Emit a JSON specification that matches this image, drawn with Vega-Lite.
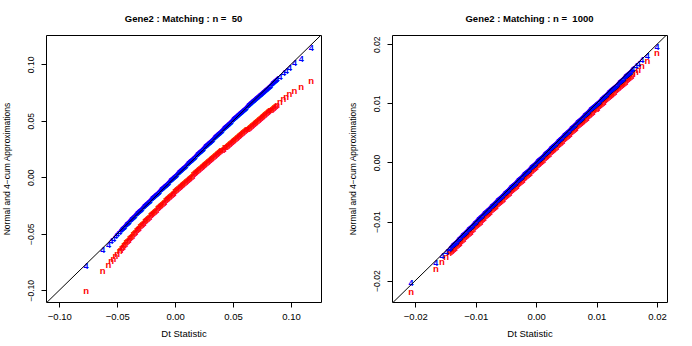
{
  "$schema": "https://vega.github.io/schema/vega-lite/v6.json",
  "padding": {"left": 1, "top": 13, "right": 5, "bottom": 5},
  "config": {
    "font": "Liberation Sans",
    "view": {"stroke": "black", "strokeWidth": 1},
    "axis": {"grid": false, "domain": false, "tickColor": "black", "tickSize": 5, "labelColor": "black", "titleColor": "black", "titleFontWeight": "normal", "labelFlush": false, "labelOverlap": false},
    "title": {"fontSize": 9.5, "fontWeight": "bold", "anchor": "middle", "color": "black", "offset": 12}
  },
  "spacing": 25,
  "datasets": {
    "p1": [
      {"x":-0.0769,"y":-0.0784,"m":"4"},{"x":-0.0769,"y":-0.1008,"m":"n"},
      {"x":-0.0625,"y":-0.0640,"m":"4"},{"x":-0.0625,"y":-0.0826,"m":"n"},
      {"x":-0.0576,"y":-0.0595,"m":"4"},{"x":-0.0576,"y":-0.0773,"m":"n"},
      {"x":-0.0553,"y":-0.0568,"m":"4"},{"x":-0.0553,"y":-0.0742,"m":"n"},
      {"x":-0.0533,"y":-0.0545,"m":"4"},{"x":-0.0533,"y":-0.0721,"m":"n"},
      {"x":-0.0515,"y":-0.0524,"m":"4"},{"x":-0.0515,"y":-0.0698,"m":"n"},
      {"x":-0.0500,"y":-0.0506,"m":"4"},{"x":-0.0500,"y":-0.0680,"m":"n"},
      {"x":-0.048,"y":-0.0481,"m":"4"},{"x":-0.048,"y":-0.0655,"m":"n"},
      {"x":-0.047,"y":-0.0470,"m":"4"},{"x":-0.047,"y":-0.0642,"m":"n"},
      {"x":-0.046,"y":-0.0460,"m":"4"},{"x":-0.046,"y":-0.0629,"m":"n"},
      {"x":-0.045,"y":-0.0448,"m":"4"},{"x":-0.045,"y":-0.0615,"m":"n"},
      {"x":-0.044,"y":-0.0437,"m":"4"},{"x":-0.044,"y":-0.0602,"m":"n"},
      {"x":-0.043,"y":-0.0426,"m":"4"},{"x":-0.043,"y":-0.0589,"m":"n"},
      {"x":-0.042,"y":-0.0415,"m":"4"},{"x":-0.042,"y":-0.0577,"m":"n"},
      {"x":-0.041,"y":-0.0404,"m":"4"},{"x":-0.041,"y":-0.0564,"m":"n"},
      {"x":-0.040,"y":-0.0393,"m":"4"},{"x":-0.040,"y":-0.0552,"m":"n"},
      {"x":-0.039,"y":-0.0382,"m":"4"},{"x":-0.039,"y":-0.0540,"m":"n"},
      {"x":-0.038,"y":-0.0371,"m":"4"},{"x":-0.038,"y":-0.0528,"m":"n"},
      {"x":-0.037,"y":-0.0361,"m":"4"},{"x":-0.037,"y":-0.0516,"m":"n"},
      {"x":-0.036,"y":-0.0350,"m":"4"},{"x":-0.036,"y":-0.0504,"m":"n"},
      {"x":-0.035,"y":-0.0339,"m":"4"},{"x":-0.035,"y":-0.0493,"m":"n"},
      {"x":-0.034,"y":-0.0329,"m":"4"},{"x":-0.034,"y":-0.0481,"m":"n"},
      {"x":-0.033,"y":-0.0318,"m":"4"},{"x":-0.033,"y":-0.0470,"m":"n"},
      {"x":-0.032,"y":-0.0308,"m":"4"},{"x":-0.032,"y":-0.0458,"m":"n"},
      {"x":-0.031,"y":-0.0297,"m":"4"},{"x":-0.031,"y":-0.0447,"m":"n"},
      {"x":-0.030,"y":-0.0287,"m":"4"},{"x":-0.030,"y":-0.0435,"m":"n"},
      {"x":-0.029,"y":-0.0277,"m":"4"},{"x":-0.029,"y":-0.0424,"m":"n"},
      {"x":-0.028,"y":-0.0266,"m":"4"},{"x":-0.028,"y":-0.0413,"m":"n"},
      {"x":-0.027,"y":-0.0256,"m":"4"},{"x":-0.027,"y":-0.0402,"m":"n"},
      {"x":-0.026,"y":-0.0246,"m":"4"},{"x":-0.026,"y":-0.0391,"m":"n"},
      {"x":-0.025,"y":-0.0236,"m":"4"},{"x":-0.025,"y":-0.0380,"m":"n"},
      {"x":-0.024,"y":-0.0226,"m":"4"},{"x":-0.024,"y":-0.0369,"m":"n"},
      {"x":-0.023,"y":-0.0216,"m":"4"},{"x":-0.023,"y":-0.0359,"m":"n"},
      {"x":-0.022,"y":-0.0206,"m":"4"},{"x":-0.022,"y":-0.0348,"m":"n"},
      {"x":-0.021,"y":-0.0196,"m":"4"},{"x":-0.021,"y":-0.0338,"m":"n"},
      {"x":-0.020,"y":-0.0186,"m":"4"},{"x":-0.020,"y":-0.0327,"m":"n"},
      {"x":-0.019,"y":-0.0176,"m":"4"},{"x":-0.019,"y":-0.0317,"m":"n"},
      {"x":-0.018,"y":-0.0166,"m":"4"},{"x":-0.018,"y":-0.0306,"m":"n"},
      {"x":-0.017,"y":-0.0156,"m":"4"},{"x":-0.017,"y":-0.0296,"m":"n"},
      {"x":-0.016,"y":-0.0146,"m":"4"},{"x":-0.016,"y":-0.0286,"m":"n"},
      {"x":-0.015,"y":-0.0136,"m":"4"},{"x":-0.015,"y":-0.0275,"m":"n"},
      {"x":-0.014,"y":-0.0126,"m":"4"},{"x":-0.014,"y":-0.0265,"m":"n"},
      {"x":-0.013,"y":-0.0116,"m":"4"},{"x":-0.013,"y":-0.0255,"m":"n"},
      {"x":-0.012,"y":-0.0106,"m":"4"},{"x":-0.012,"y":-0.0245,"m":"n"},
      {"x":-0.011,"y":-0.0096,"m":"4"},{"x":-0.011,"y":-0.0235,"m":"n"},
      {"x":-0.010,"y":-0.0086,"m":"4"},{"x":-0.010,"y":-0.0225,"m":"n"},
      {"x":-0.009,"y":-0.0076,"m":"4"},{"x":-0.009,"y":-0.0215,"m":"n"},
      {"x":-0.008,"y":-0.0066,"m":"4"},{"x":-0.008,"y":-0.0205,"m":"n"},
      {"x":-0.007,"y":-0.0056,"m":"4"},{"x":-0.007,"y":-0.0195,"m":"n"},
      {"x":-0.006,"y":-0.0046,"m":"4"},{"x":-0.006,"y":-0.0185,"m":"n"},
      {"x":-0.005,"y":-0.0036,"m":"4"},{"x":-0.005,"y":-0.0175,"m":"n"},
      {"x":-0.004,"y":-0.0026,"m":"4"},{"x":-0.004,"y":-0.0165,"m":"n"},
      {"x":-0.003,"y":-0.0016,"m":"4"},{"x":-0.003,"y":-0.0155,"m":"n"},
      {"x":-0.002,"y":-0.0006,"m":"4"},{"x":-0.002,"y":-0.0145,"m":"n"},
      {"x":-0.001,"y":0.0004,"m":"4"},{"x":-0.001,"y":-0.0135,"m":"n"},
      {"x":0.000,"y":0.0014,"m":"4"},{"x":0.000,"y":-0.0125,"m":"n"},
      {"x":0.001,"y":0.0024,"m":"4"},{"x":0.001,"y":-0.0116,"m":"n"},
      {"x":0.002,"y":0.0034,"m":"4"},{"x":0.002,"y":-0.0106,"m":"n"},
      {"x":0.003,"y":0.0044,"m":"4"},{"x":0.003,"y":-0.0097,"m":"n"},
      {"x":0.004,"y":0.0054,"m":"4"},{"x":0.004,"y":-0.0087,"m":"n"},
      {"x":0.005,"y":0.0064,"m":"4"},{"x":0.005,"y":-0.0078,"m":"n"},
      {"x":0.006,"y":0.0074,"m":"4"},{"x":0.006,"y":-0.0068,"m":"n"},
      {"x":0.007,"y":0.0084,"m":"4"},{"x":0.007,"y":-0.0059,"m":"n"},
      {"x":0.008,"y":0.0094,"m":"4"},{"x":0.008,"y":-0.0049,"m":"n"},
      {"x":0.009,"y":0.0104,"m":"4"},{"x":0.009,"y":-0.0040,"m":"n"},
      {"x":0.010,"y":0.0114,"m":"4"},{"x":0.010,"y":-0.0030,"m":"n"},
      {"x":0.011,"y":0.0124,"m":"4"},{"x":0.011,"y":-0.0021,"m":"n"},
      {"x":0.012,"y":0.0134,"m":"4"},{"x":0.012,"y":-0.0012,"m":"n"},
      {"x":0.013,"y":0.0144,"m":"4"},{"x":0.013,"y":-0.0003,"m":"n"},
      {"x":0.014,"y":0.0154,"m":"4"},{"x":0.014,"y":0.0006,"m":"n"},
      {"x":0.015,"y":0.0164,"m":"4"},{"x":0.015,"y":0.0016,"m":"n"},
      {"x":0.016,"y":0.0174,"m":"4"},{"x":0.016,"y":0.0025,"m":"n"},
      {"x":0.017,"y":0.0184,"m":"4"},{"x":0.017,"y":0.0034,"m":"n"},
      {"x":0.018,"y":0.0194,"m":"4"},{"x":0.018,"y":0.0043,"m":"n"},
      {"x":0.019,"y":0.0204,"m":"4"},{"x":0.019,"y":0.0052,"m":"n"},
      {"x":0.020,"y":0.0214,"m":"4"},{"x":0.020,"y":0.0062,"m":"n"},
      {"x":0.021,"y":0.0224,"m":"4"},{"x":0.021,"y":0.0071,"m":"n"},
      {"x":0.022,"y":0.0234,"m":"4"},{"x":0.022,"y":0.0080,"m":"n"},
      {"x":0.023,"y":0.0244,"m":"4"},{"x":0.023,"y":0.0088,"m":"n"},
      {"x":0.024,"y":0.0254,"m":"4"},{"x":0.024,"y":0.0097,"m":"n"},
      {"x":0.025,"y":0.0264,"m":"4"},{"x":0.025,"y":0.0106,"m":"n"},
      {"x":0.026,"y":0.0274,"m":"4"},{"x":0.026,"y":0.0115,"m":"n"},
      {"x":0.027,"y":0.0284,"m":"4"},{"x":0.027,"y":0.0124,"m":"n"},
      {"x":0.028,"y":0.0294,"m":"4"},{"x":0.028,"y":0.0132,"m":"n"},
      {"x":0.029,"y":0.0304,"m":"4"},{"x":0.029,"y":0.0141,"m":"n"},
      {"x":0.030,"y":0.0314,"m":"4"},{"x":0.030,"y":0.0150,"m":"n"},
      {"x":0.031,"y":0.0324,"m":"4"},{"x":0.031,"y":0.0159,"m":"n"},
      {"x":0.032,"y":0.0334,"m":"4"},{"x":0.032,"y":0.0168,"m":"n"},
      {"x":0.033,"y":0.0344,"m":"4"},{"x":0.033,"y":0.0176,"m":"n"},
      {"x":0.034,"y":0.0354,"m":"4"},{"x":0.034,"y":0.0185,"m":"n"},
      {"x":0.035,"y":0.0364,"m":"4"},{"x":0.035,"y":0.0194,"m":"n"},
      {"x":0.036,"y":0.0374,"m":"4"},{"x":0.036,"y":0.0203,"m":"n"},
      {"x":0.037,"y":0.0384,"m":"4"},{"x":0.037,"y":0.0211,"m":"n"},
      {"x":0.038,"y":0.0394,"m":"4"},{"x":0.038,"y":0.0220,"m":"n"},
      {"x":0.039,"y":0.0404,"m":"4"},{"x":0.039,"y":0.0229,"m":"n"},
      {"x":0.040,"y":0.0414,"m":"4"},{"x":0.040,"y":0.0238,"m":"n"},
      {"x":0.041,"y":0.0424,"m":"4"},{"x":0.041,"y":0.0246,"m":"n"},
      {"x":0.042,"y":0.0434,"m":"4"},{"x":0.042,"y":0.0255,"m":"n"},
      {"x":0.043,"y":0.0444,"m":"4"},{"x":0.043,"y":0.0264,"m":"n"},
      {"x":0.044,"y":0.0454,"m":"4"},{"x":0.044,"y":0.0272,"m":"n"},
      {"x":0.045,"y":0.0464,"m":"4"},{"x":0.045,"y":0.0281,"m":"n"},
      {"x":0.046,"y":0.0474,"m":"4"},{"x":0.046,"y":0.0289,"m":"n"},
      {"x":0.047,"y":0.0483,"m":"4"},{"x":0.047,"y":0.0298,"m":"n"},
      {"x":0.048,"y":0.0493,"m":"4"},{"x":0.048,"y":0.0306,"m":"n"},
      {"x":0.049,"y":0.0503,"m":"4"},{"x":0.049,"y":0.0315,"m":"n"},
      {"x":0.050,"y":0.0513,"m":"4"},{"x":0.050,"y":0.0323,"m":"n"},
      {"x":0.051,"y":0.0522,"m":"4"},{"x":0.051,"y":0.0331,"m":"n"},
      {"x":0.052,"y":0.0532,"m":"4"},{"x":0.052,"y":0.0340,"m":"n"},
      {"x":0.053,"y":0.0542,"m":"4"},{"x":0.053,"y":0.0348,"m":"n"},
      {"x":0.054,"y":0.0551,"m":"4"},{"x":0.054,"y":0.0357,"m":"n"},
      {"x":0.055,"y":0.0561,"m":"4"},{"x":0.055,"y":0.0365,"m":"n"},
      {"x":0.056,"y":0.0570,"m":"4"},{"x":0.056,"y":0.0373,"m":"n"},
      {"x":0.057,"y":0.0580,"m":"4"},{"x":0.057,"y":0.0382,"m":"n"},
      {"x":0.058,"y":0.0590,"m":"4"},{"x":0.058,"y":0.0390,"m":"n"},
      {"x":0.059,"y":0.0599,"m":"4"},{"x":0.059,"y":0.0399,"m":"n"},
      {"x":0.060,"y":0.0609,"m":"4"},{"x":0.060,"y":0.0407,"m":"n"},
      {"x":0.061,"y":0.0618,"m":"4"},{"x":0.061,"y":0.0415,"m":"n"},
      {"x":0.062,"y":0.0628,"m":"4"},{"x":0.062,"y":0.0424,"m":"n"},
      {"x":0.063,"y":0.0637,"m":"4"},{"x":0.063,"y":0.0432,"m":"n"},
      {"x":0.064,"y":0.0646,"m":"4"},{"x":0.064,"y":0.0441,"m":"n"},
      {"x":0.065,"y":0.0656,"m":"4"},{"x":0.065,"y":0.0449,"m":"n"},
      {"x":0.066,"y":0.0665,"m":"4"},{"x":0.066,"y":0.0457,"m":"n"},
      {"x":0.067,"y":0.0674,"m":"4"},{"x":0.067,"y":0.0466,"m":"n"},
      {"x":0.068,"y":0.0683,"m":"4"},{"x":0.068,"y":0.0474,"m":"n"},
      {"x":0.069,"y":0.0693,"m":"4"},{"x":0.069,"y":0.0483,"m":"n"},
      {"x":0.070,"y":0.0702,"m":"4"},{"x":0.070,"y":0.0491,"m":"n"},
      {"x":0.071,"y":0.0711,"m":"4"},{"x":0.071,"y":0.0499,"m":"n"},
      {"x":0.072,"y":0.0720,"m":"4"},{"x":0.072,"y":0.0508,"m":"n"},
      {"x":0.073,"y":0.0730,"m":"4"},{"x":0.073,"y":0.0516,"m":"n"},
      {"x":0.074,"y":0.0739,"m":"4"},{"x":0.074,"y":0.0525,"m":"n"},
      {"x":0.075,"y":0.0748,"m":"4"},{"x":0.075,"y":0.0533,"m":"n"},
      {"x":0.076,"y":0.0757,"m":"4"},{"x":0.076,"y":0.0541,"m":"n"},
      {"x":0.077,"y":0.0766,"m":"4"},{"x":0.077,"y":0.0550,"m":"n"},
      {"x":0.078,"y":0.0776,"m":"4"},{"x":0.078,"y":0.0558,"m":"n"},
      {"x":0.079,"y":0.0785,"m":"4"},{"x":0.079,"y":0.0567,"m":"n"},
      {"x":0.080,"y":0.0794,"m":"4"},{"x":0.080,"y":0.0575,"m":"n"},
      {"x":0.081,"y":0.0803,"m":"4"},{"x":0.081,"y":0.0583,"m":"n"},
      {"x":0.082,"y":0.0812,"m":"4"},{"x":0.082,"y":0.0592,"m":"n"},
      {"x":0.083,"y":0.0822,"m":"4"},{"x":0.083,"y":0.0600,"m":"n"},
      {"x":0.084,"y":0.0831,"m":"4"},{"x":0.084,"y":0.0609,"m":"n"},
      {"x":0.085,"y":0.0840,"m":"4"},{"x":0.085,"y":0.0617,"m":"n"},
      {"x":0.086,"y":0.0849,"m":"4"},{"x":0.086,"y":0.0625,"m":"n"},
      {"x":0.087,"y":0.0858,"m":"4"},{"x":0.087,"y":0.0634,"m":"n"},
      {"x":0.088,"y":0.0868,"m":"4"},{"x":0.088,"y":0.0642,"m":"n"},
      {"x":0.0905,"y":0.0891,"m":"4"},{"x":0.0905,"y":0.0663,"m":"n"},
      {"x":0.0935,"y":0.0920,"m":"4"},{"x":0.0935,"y":0.0689,"m":"n"},
      {"x":0.0959,"y":0.0944,"m":"4"},{"x":0.0959,"y":0.0710,"m":"n"},
      {"x":0.0987,"y":0.0970,"m":"4"},{"x":0.0987,"y":0.0734,"m":"n"},
      {"x":0.1030,"y":0.1010,"m":"4"},{"x":0.1030,"y":0.0764,"m":"n"},
      {"x":0.1088,"y":0.1045,"m":"4"},{"x":0.1088,"y":0.0797,"m":"n"},
      {"x":0.1174,"y":0.1142,"m":"4"},{"x":0.1174,"y":0.0852,"m":"n"}
    ],
    "p2": [
      {"x":-0.0207,"y":-0.0204,"m":"4"},{"x":-0.0207,"y":-0.0219,"m":"n"},
      {"x":-0.0166,"y":-0.0170,"m":"4"},{"x":-0.0166,"y":-0.0180,"m":"n"},
      {"x":-0.0156,"y":-0.0159,"m":"4"},{"x":-0.0156,"y":-0.0168,"m":"n"},
      {"x":-0.0149,"y":-0.0152,"m":"4"},{"x":-0.0149,"y":-0.0160,"m":"n"},
      {"x":-0.0144,"y":-0.0146,"m":"4"},{"x":-0.0144,"y":-0.0154,"m":"n"},
      {"x":-0.0142,"y":-0.0144,"m":"4"},{"x":-0.0142,"y":-0.0152,"m":"n"},
      {"x":-0.0140,"y":-0.0142,"m":"4"},{"x":-0.0140,"y":-0.0150,"m":"n"},
      {"x":-0.0138,"y":-0.0140,"m":"4"},{"x":-0.0138,"y":-0.0148,"m":"n"},
      {"x":-0.0136,"y":-0.0138,"m":"4"},{"x":-0.0136,"y":-0.0146,"m":"n"},
      {"x":-0.0134,"y":-0.0136,"m":"4"},{"x":-0.0134,"y":-0.0144,"m":"n"},
      {"x":-0.0132,"y":-0.0134,"m":"4"},{"x":-0.0132,"y":-0.0142,"m":"n"},
      {"x":-0.0130,"y":-0.0132,"m":"4"},{"x":-0.0130,"y":-0.0140,"m":"n"},
      {"x":-0.0128,"y":-0.0130,"m":"4"},{"x":-0.0128,"y":-0.0138,"m":"n"},
      {"x":-0.0126,"y":-0.0128,"m":"4"},{"x":-0.0126,"y":-0.0136,"m":"n"},
      {"x":-0.0124,"y":-0.0125,"m":"4"},{"x":-0.0124,"y":-0.0133,"m":"n"},
      {"x":-0.0122,"y":-0.0123,"m":"4"},{"x":-0.0122,"y":-0.0131,"m":"n"},
      {"x":-0.0120,"y":-0.0121,"m":"4"},{"x":-0.0120,"y":-0.0129,"m":"n"},
      {"x":-0.0118,"y":-0.0119,"m":"4"},{"x":-0.0118,"y":-0.0127,"m":"n"},
      {"x":-0.0116,"y":-0.0117,"m":"4"},{"x":-0.0116,"y":-0.0125,"m":"n"},
      {"x":-0.0114,"y":-0.0115,"m":"4"},{"x":-0.0114,"y":-0.0123,"m":"n"},
      {"x":-0.0112,"y":-0.0113,"m":"4"},{"x":-0.0112,"y":-0.0121,"m":"n"},
      {"x":-0.0110,"y":-0.0111,"m":"4"},{"x":-0.0110,"y":-0.0119,"m":"n"},
      {"x":-0.0108,"y":-0.0109,"m":"4"},{"x":-0.0108,"y":-0.0117,"m":"n"},
      {"x":-0.0106,"y":-0.0107,"m":"4"},{"x":-0.0106,"y":-0.0115,"m":"n"},
      {"x":-0.0104,"y":-0.0104,"m":"4"},{"x":-0.0104,"y":-0.0112,"m":"n"},
      {"x":-0.0102,"y":-0.0102,"m":"4"},{"x":-0.0102,"y":-0.0110,"m":"n"},
      {"x":-0.0100,"y":-0.0100,"m":"4"},{"x":-0.0100,"y":-0.0108,"m":"n"},
      {"x":-0.0098,"y":-0.0098,"m":"4"},{"x":-0.0098,"y":-0.0106,"m":"n"},
      {"x":-0.0096,"y":-0.0096,"m":"4"},{"x":-0.0096,"y":-0.0104,"m":"n"},
      {"x":-0.0094,"y":-0.0094,"m":"4"},{"x":-0.0094,"y":-0.0102,"m":"n"},
      {"x":-0.0092,"y":-0.0092,"m":"4"},{"x":-0.0092,"y":-0.0100,"m":"n"},
      {"x":-0.0090,"y":-0.0090,"m":"4"},{"x":-0.0090,"y":-0.0098,"m":"n"},
      {"x":-0.0088,"y":-0.0088,"m":"4"},{"x":-0.0088,"y":-0.0096,"m":"n"},
      {"x":-0.0086,"y":-0.0086,"m":"4"},{"x":-0.0086,"y":-0.0094,"m":"n"},
      {"x":-0.0084,"y":-0.0084,"m":"4"},{"x":-0.0084,"y":-0.0091,"m":"n"},
      {"x":-0.0082,"y":-0.0082,"m":"4"},{"x":-0.0082,"y":-0.0089,"m":"n"},
      {"x":-0.0080,"y":-0.0080,"m":"4"},{"x":-0.0080,"y":-0.0087,"m":"n"},
      {"x":-0.0078,"y":-0.0078,"m":"4"},{"x":-0.0078,"y":-0.0085,"m":"n"},
      {"x":-0.0076,"y":-0.0076,"m":"4"},{"x":-0.0076,"y":-0.0083,"m":"n"},
      {"x":-0.0074,"y":-0.0074,"m":"4"},{"x":-0.0074,"y":-0.0081,"m":"n"},
      {"x":-0.0072,"y":-0.0072,"m":"4"},{"x":-0.0072,"y":-0.0079,"m":"n"},
      {"x":-0.0070,"y":-0.0070,"m":"4"},{"x":-0.0070,"y":-0.0077,"m":"n"},
      {"x":-0.0068,"y":-0.0068,"m":"4"},{"x":-0.0068,"y":-0.0075,"m":"n"},
      {"x":-0.0066,"y":-0.0066,"m":"4"},{"x":-0.0066,"y":-0.0073,"m":"n"},
      {"x":-0.0064,"y":-0.0064,"m":"4"},{"x":-0.0064,"y":-0.0071,"m":"n"},
      {"x":-0.0062,"y":-0.0062,"m":"4"},{"x":-0.0062,"y":-0.0069,"m":"n"},
      {"x":-0.0060,"y":-0.0060,"m":"4"},{"x":-0.0060,"y":-0.0067,"m":"n"},
      {"x":-0.0058,"y":-0.0058,"m":"4"},{"x":-0.0058,"y":-0.0065,"m":"n"},
      {"x":-0.0056,"y":-0.0056,"m":"4"},{"x":-0.0056,"y":-0.0063,"m":"n"},
      {"x":-0.0054,"y":-0.0054,"m":"4"},{"x":-0.0054,"y":-0.0061,"m":"n"},
      {"x":-0.0052,"y":-0.0052,"m":"4"},{"x":-0.0052,"y":-0.0059,"m":"n"},
      {"x":-0.0050,"y":-0.0050,"m":"4"},{"x":-0.0050,"y":-0.0057,"m":"n"},
      {"x":-0.0048,"y":-0.0048,"m":"4"},{"x":-0.0048,"y":-0.0055,"m":"n"},
      {"x":-0.0046,"y":-0.0046,"m":"4"},{"x":-0.0046,"y":-0.0053,"m":"n"},
      {"x":-0.0044,"y":-0.0044,"m":"4"},{"x":-0.0044,"y":-0.0051,"m":"n"},
      {"x":-0.0042,"y":-0.0042,"m":"4"},{"x":-0.0042,"y":-0.0049,"m":"n"},
      {"x":-0.0040,"y":-0.0040,"m":"4"},{"x":-0.0040,"y":-0.0047,"m":"n"},
      {"x":-0.0038,"y":-0.0038,"m":"4"},{"x":-0.0038,"y":-0.0045,"m":"n"},
      {"x":-0.0036,"y":-0.0036,"m":"4"},{"x":-0.0036,"y":-0.0043,"m":"n"},
      {"x":-0.0034,"y":-0.0034,"m":"4"},{"x":-0.0034,"y":-0.0041,"m":"n"},
      {"x":-0.0032,"y":-0.0032,"m":"4"},{"x":-0.0032,"y":-0.0039,"m":"n"},
      {"x":-0.0030,"y":-0.0030,"m":"4"},{"x":-0.0030,"y":-0.0037,"m":"n"},
      {"x":-0.0028,"y":-0.0028,"m":"4"},{"x":-0.0028,"y":-0.0035,"m":"n"},
      {"x":-0.0026,"y":-0.0026,"m":"4"},{"x":-0.0026,"y":-0.0033,"m":"n"},
      {"x":-0.0024,"y":-0.0024,"m":"4"},{"x":-0.0024,"y":-0.0031,"m":"n"},
      {"x":-0.0022,"y":-0.0022,"m":"4"},{"x":-0.0022,"y":-0.0029,"m":"n"},
      {"x":-0.0020,"y":-0.0020,"m":"4"},{"x":-0.0020,"y":-0.0027,"m":"n"},
      {"x":-0.0018,"y":-0.0018,"m":"4"},{"x":-0.0018,"y":-0.0025,"m":"n"},
      {"x":-0.0016,"y":-0.0016,"m":"4"},{"x":-0.0016,"y":-0.0023,"m":"n"},
      {"x":-0.0014,"y":-0.0014,"m":"4"},{"x":-0.0014,"y":-0.0021,"m":"n"},
      {"x":-0.0012,"y":-0.0012,"m":"4"},{"x":-0.0012,"y":-0.0019,"m":"n"},
      {"x":-0.0010,"y":-0.0010,"m":"4"},{"x":-0.0010,"y":-0.0017,"m":"n"},
      {"x":-0.0008,"y":-0.0008,"m":"4"},{"x":-0.0008,"y":-0.0015,"m":"n"},
      {"x":-0.0006,"y":-0.0006,"m":"4"},{"x":-0.0006,"y":-0.0013,"m":"n"},
      {"x":-0.0004,"y":-0.0004,"m":"4"},{"x":-0.0004,"y":-0.0011,"m":"n"},
      {"x":-0.0002,"y":-0.0002,"m":"4"},{"x":-0.0002,"y":-0.0009,"m":"n"},
      {"x":0.0000,"y":0.0000,"m":"4"},{"x":0.0000,"y":-0.0007,"m":"n"},
      {"x":0.0002,"y":0.0002,"m":"4"},{"x":0.0002,"y":-0.0005,"m":"n"},
      {"x":0.0004,"y":0.0004,"m":"4"},{"x":0.0004,"y":-0.0003,"m":"n"},
      {"x":0.0006,"y":0.0006,"m":"4"},{"x":0.0006,"y":-0.0001,"m":"n"},
      {"x":0.0008,"y":0.0008,"m":"4"},{"x":0.0008,"y":0.0001,"m":"n"},
      {"x":0.0010,"y":0.0010,"m":"4"},{"x":0.0010,"y":0.0003,"m":"n"},
      {"x":0.0012,"y":0.0012,"m":"4"},{"x":0.0012,"y":0.0005,"m":"n"},
      {"x":0.0014,"y":0.0014,"m":"4"},{"x":0.0014,"y":0.0007,"m":"n"},
      {"x":0.0016,"y":0.0016,"m":"4"},{"x":0.0016,"y":0.0009,"m":"n"},
      {"x":0.0018,"y":0.0018,"m":"4"},{"x":0.0018,"y":0.0011,"m":"n"},
      {"x":0.0020,"y":0.0020,"m":"4"},{"x":0.0020,"y":0.0013,"m":"n"},
      {"x":0.0022,"y":0.0022,"m":"4"},{"x":0.0022,"y":0.0015,"m":"n"},
      {"x":0.0024,"y":0.0024,"m":"4"},{"x":0.0024,"y":0.0017,"m":"n"},
      {"x":0.0026,"y":0.0026,"m":"4"},{"x":0.0026,"y":0.0019,"m":"n"},
      {"x":0.0028,"y":0.0028,"m":"4"},{"x":0.0028,"y":0.0021,"m":"n"},
      {"x":0.0030,"y":0.0030,"m":"4"},{"x":0.0030,"y":0.0023,"m":"n"},
      {"x":0.0032,"y":0.0032,"m":"4"},{"x":0.0032,"y":0.0025,"m":"n"},
      {"x":0.0034,"y":0.0034,"m":"4"},{"x":0.0034,"y":0.0027,"m":"n"},
      {"x":0.0036,"y":0.0036,"m":"4"},{"x":0.0036,"y":0.0029,"m":"n"},
      {"x":0.0038,"y":0.0038,"m":"4"},{"x":0.0038,"y":0.0031,"m":"n"},
      {"x":0.0040,"y":0.0040,"m":"4"},{"x":0.0040,"y":0.0033,"m":"n"},
      {"x":0.0042,"y":0.0042,"m":"4"},{"x":0.0042,"y":0.0035,"m":"n"},
      {"x":0.0044,"y":0.0044,"m":"4"},{"x":0.0044,"y":0.0037,"m":"n"},
      {"x":0.0046,"y":0.0046,"m":"4"},{"x":0.0046,"y":0.0039,"m":"n"},
      {"x":0.0048,"y":0.0048,"m":"4"},{"x":0.0048,"y":0.0041,"m":"n"},
      {"x":0.0050,"y":0.0050,"m":"4"},{"x":0.0050,"y":0.0043,"m":"n"},
      {"x":0.0052,"y":0.0052,"m":"4"},{"x":0.0052,"y":0.0045,"m":"n"},
      {"x":0.0054,"y":0.0054,"m":"4"},{"x":0.0054,"y":0.0047,"m":"n"},
      {"x":0.0056,"y":0.0056,"m":"4"},{"x":0.0056,"y":0.0049,"m":"n"},
      {"x":0.0058,"y":0.0058,"m":"4"},{"x":0.0058,"y":0.0051,"m":"n"},
      {"x":0.0060,"y":0.0060,"m":"4"},{"x":0.0060,"y":0.0053,"m":"n"},
      {"x":0.0062,"y":0.0062,"m":"4"},{"x":0.0062,"y":0.0055,"m":"n"},
      {"x":0.0064,"y":0.0064,"m":"4"},{"x":0.0064,"y":0.0057,"m":"n"},
      {"x":0.0066,"y":0.0066,"m":"4"},{"x":0.0066,"y":0.0059,"m":"n"},
      {"x":0.0068,"y":0.0068,"m":"4"},{"x":0.0068,"y":0.0061,"m":"n"},
      {"x":0.0070,"y":0.0070,"m":"4"},{"x":0.0070,"y":0.0063,"m":"n"},
      {"x":0.0072,"y":0.0072,"m":"4"},{"x":0.0072,"y":0.0065,"m":"n"},
      {"x":0.0074,"y":0.0074,"m":"4"},{"x":0.0074,"y":0.0067,"m":"n"},
      {"x":0.0076,"y":0.0076,"m":"4"},{"x":0.0076,"y":0.0069,"m":"n"},
      {"x":0.0078,"y":0.0078,"m":"4"},{"x":0.0078,"y":0.0071,"m":"n"},
      {"x":0.0080,"y":0.0080,"m":"4"},{"x":0.0080,"y":0.0072,"m":"n"},
      {"x":0.0082,"y":0.0082,"m":"4"},{"x":0.0082,"y":0.0074,"m":"n"},
      {"x":0.0084,"y":0.0084,"m":"4"},{"x":0.0084,"y":0.0076,"m":"n"},
      {"x":0.0086,"y":0.0086,"m":"4"},{"x":0.0086,"y":0.0078,"m":"n"},
      {"x":0.0088,"y":0.0088,"m":"4"},{"x":0.0088,"y":0.0080,"m":"n"},
      {"x":0.0090,"y":0.0090,"m":"4"},{"x":0.0090,"y":0.0082,"m":"n"},
      {"x":0.0092,"y":0.0092,"m":"4"},{"x":0.0092,"y":0.0084,"m":"n"},
      {"x":0.0094,"y":0.0094,"m":"4"},{"x":0.0094,"y":0.0086,"m":"n"},
      {"x":0.0096,"y":0.0096,"m":"4"},{"x":0.0096,"y":0.0088,"m":"n"},
      {"x":0.0098,"y":0.0098,"m":"4"},{"x":0.0098,"y":0.0090,"m":"n"},
      {"x":0.0100,"y":0.0099,"m":"4"},{"x":0.0100,"y":0.0091,"m":"n"},
      {"x":0.0102,"y":0.0101,"m":"4"},{"x":0.0102,"y":0.0093,"m":"n"},
      {"x":0.0104,"y":0.0103,"m":"4"},{"x":0.0104,"y":0.0095,"m":"n"},
      {"x":0.0106,"y":0.0105,"m":"4"},{"x":0.0106,"y":0.0097,"m":"n"},
      {"x":0.0108,"y":0.0107,"m":"4"},{"x":0.0108,"y":0.0099,"m":"n"},
      {"x":0.0110,"y":0.0109,"m":"4"},{"x":0.0110,"y":0.0101,"m":"n"},
      {"x":0.0112,"y":0.0111,"m":"4"},{"x":0.0112,"y":0.0103,"m":"n"},
      {"x":0.0114,"y":0.0113,"m":"4"},{"x":0.0114,"y":0.0105,"m":"n"},
      {"x":0.0116,"y":0.0115,"m":"4"},{"x":0.0116,"y":0.0107,"m":"n"},
      {"x":0.0118,"y":0.0117,"m":"4"},{"x":0.0118,"y":0.0109,"m":"n"},
      {"x":0.0120,"y":0.0119,"m":"4"},{"x":0.0120,"y":0.0110,"m":"n"},
      {"x":0.0122,"y":0.0121,"m":"4"},{"x":0.0122,"y":0.0112,"m":"n"},
      {"x":0.0124,"y":0.0123,"m":"4"},{"x":0.0124,"y":0.0114,"m":"n"},
      {"x":0.0126,"y":0.0124,"m":"4"},{"x":0.0126,"y":0.0116,"m":"n"},
      {"x":0.0128,"y":0.0126,"m":"4"},{"x":0.0128,"y":0.0118,"m":"n"},
      {"x":0.0130,"y":0.0128,"m":"4"},{"x":0.0130,"y":0.0120,"m":"n"},
      {"x":0.0132,"y":0.0130,"m":"4"},{"x":0.0132,"y":0.0122,"m":"n"},
      {"x":0.0134,"y":0.0132,"m":"4"},{"x":0.0134,"y":0.0124,"m":"n"},
      {"x":0.0136,"y":0.0134,"m":"4"},{"x":0.0136,"y":0.0126,"m":"n"},
      {"x":0.0138,"y":0.0136,"m":"4"},{"x":0.0138,"y":0.0128,"m":"n"},
      {"x":0.0140,"y":0.0138,"m":"4"},{"x":0.0140,"y":0.0129,"m":"n"},
      {"x":0.0142,"y":0.0140,"m":"4"},{"x":0.0142,"y":0.0131,"m":"n"},
      {"x":0.0144,"y":0.0142,"m":"4"},{"x":0.0144,"y":0.0133,"m":"n"},
      {"x":0.0146,"y":0.0144,"m":"4"},{"x":0.0146,"y":0.0135,"m":"n"},
      {"x":0.0148,"y":0.0146,"m":"4"},{"x":0.0148,"y":0.0137,"m":"n"},
      {"x":0.0150,"y":0.0148,"m":"4"},{"x":0.0150,"y":0.0139,"m":"n"},
      {"x":0.0152,"y":0.0150,"m":"4"},{"x":0.0152,"y":0.0141,"m":"n"},
      {"x":0.0154,"y":0.0152,"m":"4"},{"x":0.0154,"y":0.0143,"m":"n"},
      {"x":0.0156,"y":0.0154,"m":"4"},{"x":0.0156,"y":0.0145,"m":"n"},
      {"x":0.0158,"y":0.0156,"m":"4"},{"x":0.0158,"y":0.0147,"m":"n"},
      {"x":0.0160,"y":0.0158,"m":"4"},{"x":0.0160,"y":0.0149,"m":"n"},
      {"x":0.0165,"y":0.0163,"m":"4"},{"x":0.0165,"y":0.0153,"m":"n"},
      {"x":0.0169,"y":0.0167,"m":"4"},{"x":0.0169,"y":0.0157,"m":"n"},
      {"x":0.0175,"y":0.0173,"m":"4"},{"x":0.0175,"y":0.0163,"m":"n"},
      {"x":0.0184,"y":0.0181,"m":"4"},{"x":0.0184,"y":0.0171,"m":"n"},
      {"x":0.0200,"y":0.0196,"m":"4"},{"x":0.0200,"y":0.0185,"m":"n"}
    ]
  },
  "hconcat": [
    {
      "width": 275,
      "height": 267,
      "title": {"text": "Gene2 : Matching : n = \u00a050"},
      "encoding": {
        "x": {"field": "x", "type": "quantitative", "scale": {"domain": [-0.1115, 0.1259], "nice": false, "zero": false},
              "axis": {"values": [-0.1, -0.05, 0, 0.05, 0.1], "format": ".2f", "title": "Dt Statistic", "labelFontSize": 9.5, "titleFontSize": 9.5, "labelPadding": 4, "titlePadding": 8}},
        "y": {"field": "y", "type": "quantitative", "scale": {"domain": [-0.1104, 0.126], "nice": false, "zero": false},
              "axis": {"values": [-0.1, -0.05, 0, 0.05, 0.1], "format": ".2f", "title": "Normal and 4\u2212cum Approximations", "labelAngle": 270, "labelAlign": "center", "labelBaseline": "bottom", "labelFontSize": 8.5, "titleFontSize": 8.5, "labelPadding": 5.5, "titlePadding": 15}}
      },
      "layer": [
        {"data": {"name": "p1"}, "transform": [{"filter": "datum.m === 'n'"}],
         "mark": {"type": "text", "text": "n", "color": "#FF0000", "fontSize": 9.5, "fontWeight": "bold", "align": "center", "baseline": "middle", "clip": true}},
        {"data": {"name": "p1"}, "transform": [{"filter": "datum.m === '4'"}],
         "mark": {"type": "text", "text": "4", "color": "#0000FF", "fontSize": 9, "fontWeight": "bold", "align": "center", "baseline": "middle", "clip": true}},
        {"data": {"values": [{"x": -0.1115, "y": -0.1115}, {"x": 0.126, "y": 0.126}]},
         "mark": {"type": "line", "color": "black", "strokeWidth": 1, "clip": true}}
      ]
    },
    {
      "width": 275,
      "height": 267,
      "title": {"text": "Gene2 : Matching : n = \u00a01000"},
      "encoding": {
        "x": {"field": "x", "type": "quantitative", "scale": {"domain": [-0.02386, 0.02166], "nice": false, "zero": false},
              "axis": {"values": [-0.02, -0.01, 0, 0.01, 0.02], "format": ".2f", "title": "Dt Statistic", "labelFontSize": 9.5, "titleFontSize": 9.5, "labelPadding": 4, "titlePadding": 8}},
        "y": {"field": "y", "type": "quantitative", "scale": {"domain": [-0.02362, 0.02158], "nice": false, "zero": false},
              "axis": {"values": [-0.02, -0.01, 0, 0.01, 0.02], "format": ".2f", "title": "Normal and 4\u2212cum Approximations", "labelAngle": 270, "labelAlign": "center", "labelBaseline": "bottom", "labelFontSize": 8.5, "titleFontSize": 8.5, "labelPadding": 5.5, "titlePadding": 15}}
      },
      "layer": [
        {"data": {"name": "p2"}, "transform": [{"filter": "datum.m === 'n'"}],
         "mark": {"type": "text", "text": "n", "color": "#FF0000", "fontSize": 9.5, "fontWeight": "bold", "align": "center", "baseline": "middle", "clip": true}},
        {"data": {"name": "p2"}, "transform": [{"filter": "datum.m === '4'"}],
         "mark": {"type": "text", "text": "4", "color": "#0000FF", "fontSize": 9, "fontWeight": "bold", "align": "center", "baseline": "middle", "clip": true}},
        {"data": {"values": [{"x": -0.0239, "y": -0.0239}, {"x": 0.0217, "y": 0.0217}]},
         "mark": {"type": "line", "color": "black", "strokeWidth": 1, "clip": true}}
      ]
    }
  ]
}
